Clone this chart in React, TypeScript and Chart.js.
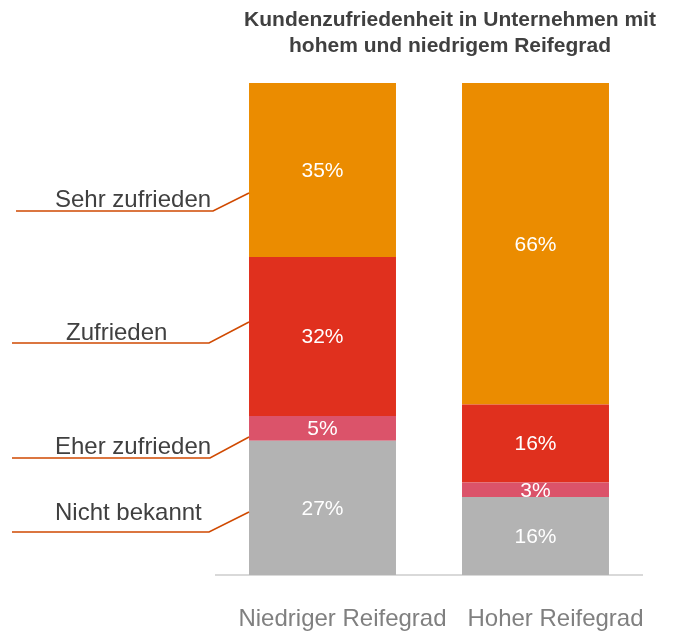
import React, { useEffect, useRef } from "react";
import { Chart, registerables } from "chart.js";

Chart.register(...registerables);

const categories = ["Niedriger Reifegrad", "Hoher Reifegrad"];
const seriesNames = ["Nicht bekannt", "Eher zufrieden", "Zufrieden", "Sehr zufrieden"];
const nichtBekannt = [27, 16];
const eherZufrieden = [5, 3];
const zufrieden = [32, 16];
const sehrZufrieden = [35, 66];
const seriesColors = ["#B3B3B3", "#DB536A", "#E0301E", "#EB8C00"];
const titleLines = ["Kundenzufriedenheit in Unternehmen mit", "hohem und niedrigem Reifegrad"];

// annotation label positions (text x, baseline y, line start x, knee x, line y, target y)
const annotations = [
  { text: "Sehr zufrieden", tx: 55, ty: 207, x0: 16, xk: 213, ly: 211, ey: 193 },
  { text: "Zufrieden", tx: 66, ty: 340, x0: 12, xk: 209, ly: 343, ey: 322 },
  { text: "Eher zufrieden", tx: 55, ty: 454, x0: 12, xk: 210, ly: 458, ey: 437 },
  { text: "Nicht bekannt", tx: 55, ty: 520, x0: 12, xk: 209, ly: 532, ey: 512 },
];

const FONT = "'Liberation Sans', Arial, sans-serif";

export default function App() {
  const ref = useRef<HTMLCanvasElement | null>(null);

  useEffect(() => {
    if (!ref.current) return;
    const raw = [nichtBekannt, eherZufrieden, zufrieden, sehrZufrieden];
    const totals = categories.map((_, i) => raw.reduce((s, arr) => s + arr[i], 0));
    const datasets = raw.map((arr, k) => ({
      label: seriesNames[k],
      data: arr.map((v, i) => (v / totals[i]) * 100),
      rawValues: arr,
      backgroundColor: seriesColors[k],
      borderWidth: 0,
      barPercentage: 0.69,
      categoryPercentage: 1,
    }));

    const overlay = {
      id: "overlay",
      afterDatasetsDraw(chart: any) {
        const ctx = chart.ctx;
        ctx.save();
        // value labels
        ctx.fillStyle = "#FFFFFF";
        ctx.font = `21px ${FONT}`;
        ctx.textAlign = "center";
        ctx.textBaseline = "middle";
        chart.data.datasets.forEach((ds: any, di: number) => {
          const meta = chart.getDatasetMeta(di);
          meta.data.forEach((el: any, i: number) => {
            const y = (el.y + el.base) / 2;
            ctx.fillText(`${ds.rawValues[i]}%`, el.x, y + 1);
          });
        });
        // title
        ctx.fillStyle = "#404040";
        ctx.font = `bold 21px ${FONT}`;
        ctx.textAlign = "center";
        ctx.textBaseline = "middle";
        ctx.fillText(titleLines[0], 450, 20);
        ctx.fillText(titleLines[1], 450, 46);
        // annotations
        const firstBar: any = chart.getDatasetMeta(0).data[0];
        const barLeft = firstBar.x - firstBar.width / 2;
        ctx.font = `24px ${FONT}`;
        ctx.textAlign = "left";
        ctx.textBaseline = "alphabetic";
        annotations.forEach((a) => {
          ctx.fillStyle = "#404040";
          ctx.fillText(a.text, a.tx, a.ty);
          ctx.strokeStyle = "#D04A02";
          ctx.lineWidth = 1.6;
          ctx.beginPath();
          ctx.moveTo(a.x0, a.ly);
          ctx.lineTo(a.xk, a.ly);
          ctx.lineTo(barLeft, a.ey);
          ctx.stroke();
        });
        ctx.restore();
      },
    };

    const chart = new Chart(ref.current, {
      type: "bar",
      data: { labels: categories, datasets: datasets as any },
      options: {
        animation: false,
        responsive: false,
        maintainAspectRatio: false,
        layout: { padding: { left: 216, right: 32, top: 83, bottom: 0 } },
        plugins: { legend: { display: false }, title: { display: false }, tooltip: { enabled: false } },
        scales: {
          x: {
            stacked: true,
            grid: { display: false, drawTicks: false },
            border: { display: true, color: "#D9D9D9", width: 2 },
            ticks: {
              color: "#808080",
              font: { family: FONT, size: 24 },
              padding: 30,
              labelOffset: 20,
              maxRotation: 0,
              minRotation: 0,
              autoSkip: false,
            },
            afterFit: (s: any) => {
              s.height = 57;
            },
          },
          y: { stacked: true, display: false, min: 0, max: 100 },
        },
      },
      plugins: [overlay],
    });
    return () => chart.destroy();
  }, []);

  return (
    <div style={{ position: "fixed", left: 0, top: 0, width: 674, height: 632, background: "#fff" }}>
      <canvas ref={ref} width={674} height={632} style={{ width: 674, height: 632 }} />
    </div>
  );
}
